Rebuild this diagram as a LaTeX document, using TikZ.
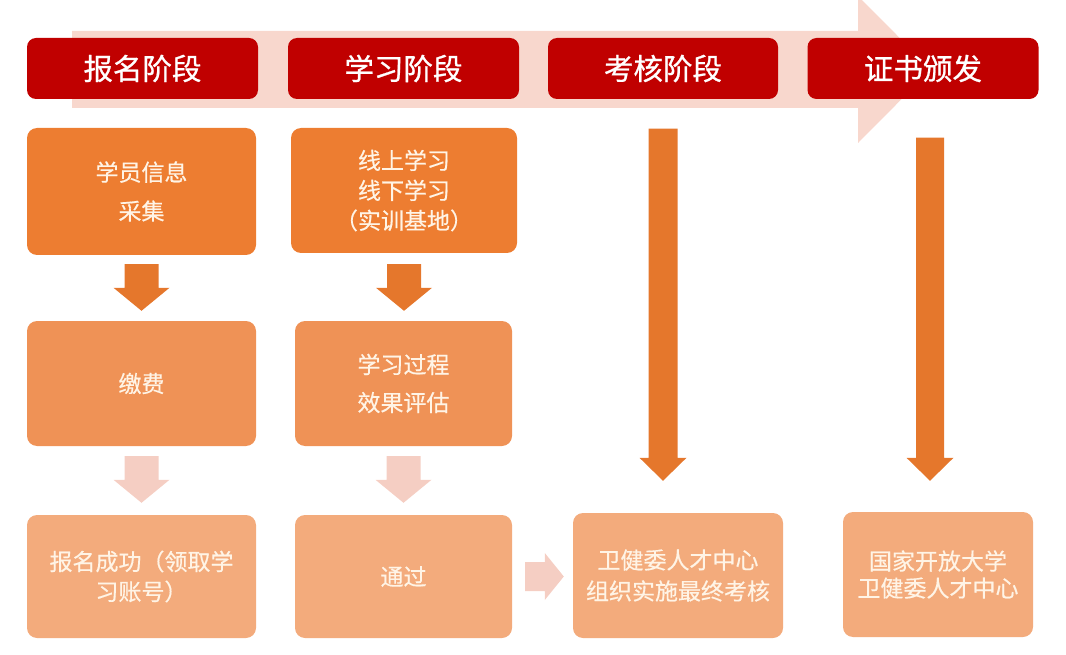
\documentclass[tikz,border=0pt]{standalone}
\usepackage{fontspec}
\setmainfont{Noto Sans CJK SC}[FakeBold=0.5]
\newfontfamily\hdrfont{Noto Sans CJK SC}[FakeBold=0.8]
\usetikzlibrary{calc}
\definecolor{hdrred}{HTML}{C00000}
\definecolor{bgarrow}{HTML}{F8D7CD}
\definecolor{orA}{HTML}{ED7D31}
\definecolor{orB}{HTML}{EF9256}
\definecolor{orC}{HTML}{F3AB7C}
\definecolor{arrD}{HTML}{E5772C}
\definecolor{arrL}{HTML}{F5CEC3}
\definecolor{txtcream}{HTML}{FFF4E6}
% block arrow pointing down: style, start, tip, stem half, head half, head length
\newcommand\blkdown[6]{%
  \fill[#1] let \p1=(#2), \p2=(#3) in
    (\x1-#4pt,\y1) -- (\x1+#4pt,\y1) -- (\x1+#4pt,\y2+#6pt) -- (\x1+#5pt,\y2+#6pt)
    -- (\x1,\y2) -- (\x1-#5pt,\y2+#6pt) -- (\x1-#4pt,\y2+#6pt) -- cycle;}
% block arrow pointing right
\newcommand\blkright[6]{%
  \fill[#1] let \p1=(#2), \p2=(#3) in
    (\x1,\y1+#4pt) -- (\x2-#6pt,\y1+#4pt) -- (\x2-#6pt,\y1+#5pt) -- (\x2,\y1)
    -- (\x2-#6pt,\y1-#5pt) -- (\x2-#6pt,\y1-#4pt) -- (\x1,\y1-#4pt) -- cycle;}
\tikzset{
  hdr/.style={rectangle, rounded corners=9pt, fill=hdrred, text=white, inner sep=0pt,
    minimum height=61pt, font=\hdrfont\fontsize{29.5}{29.5}\selectfont},
  stepbox/.style={rectangle, rounded corners=10pt, text=txtcream, inner sep=0pt, align=center},
  rowA/.style={stepbox, fill=orA},
  rowB/.style={stepbox, fill=orB},
  rowC/.style={stepbox, fill=orC},
  darr/.style={fill=arrD},
  larr/.style={fill=arrL},
}
\begin{document}
\begin{tikzpicture}[x=1pt,y=-1pt]
\useasboundingbox (0,0) rectangle (1066,655);
\clip (0,0) rectangle (1066,655);
% background process arrow
\fill[bgarrow] (72,31) -- (858,31) -- (858,-4) -- (931,69.5) -- (858,143) -- (858,108) -- (72,108) -- cycle;
% headers
\node[hdr, minimum width=231pt] (h1) at (142.5,68.5) {报名阶段};
\node[hdr, minimum width=231pt] (h2) at (403.5,68.5) {学习阶段};
\node[hdr, minimum width=230pt] (h3) at (663,68.5) {考核阶段};
\node[hdr, minimum width=231pt] (h4) at (923,68.5) {证书颁发};
% boxes
\node[rowA, minimum width=229pt, minimum height=127pt, font=\fontsize{23}{39}\selectfont] (A) at (141.5,191.5) {学员信息\\采集};
\node[rowA, minimum width=226pt, minimum height=125pt, font=\fontsize{23}{30}\selectfont] (B) at (404,190.5) {线上学习\\线下学习\\（实训基地）};
\node[rowB, minimum width=229pt, minimum height=125pt, font=\fontsize{23}{30}\selectfont] (C) at (141.5,383.5) {缴费};
\node[rowB, minimum width=217pt, minimum height=125pt, font=\fontsize{23}{38}\selectfont] (D) at (403.5,383.5) {学习过程\\效果评估};
\node[rowC, minimum width=229pt, minimum height=123pt, font=\fontsize{23}{30}\selectfont] (E) at (141.5,576.5) {报名成功（领取学\\习账号）};
\node[rowC, minimum width=217pt, minimum height=123pt, font=\fontsize{23}{30}\selectfont] (F) at (403.5,576.5) {通过};
\node[rowC, minimum width=210pt, minimum height=125pt, font=\fontsize{23}{31}\selectfont] (G) at (678,575.5) {卫健委人才中心\\组织实施最终考核};
\node[rowC, minimum width=190pt, minimum height=125pt, font=\fontsize{23}{27}\selectfont] (H) at (938,574.5) {国家开放大学\\卫健委人才中心};
% connectors
\blkdown{darr}{$(A.south)+(0,9)$}{$(C.north)+(0,-10)$}{17}{28}{23}
\blkdown{darr}{$(B.south)+(0,11)$}{$(D.north)+(0,-10)$}{17}{28}{23}
\blkdown{larr}{$(C.south)+(0,10)$}{$(E.north)+(0,-12)$}{17}{28}{23}
\blkdown{larr}{$(D.south)+(0,10)$}{$(F.north)+(0,-12)$}{17}{28}{23}
\blkright{larr}{$(F.east)+(13,0)$}{$(G.west)+(-9,0)$}{14.5}{23.5}{19}
\blkdown{darr}{$(h3.south)+(0,29.5)$}{$(h3.south |- G.north)+(0,-32)$}{14.5}{23.5}{23}
\blkdown{darr}{$(h4.south)+(7,38.5)$}{$(h4.south |- H.north)+(7,-31)$}{14}{23.5}{23}
\end{tikzpicture}
\end{document}
